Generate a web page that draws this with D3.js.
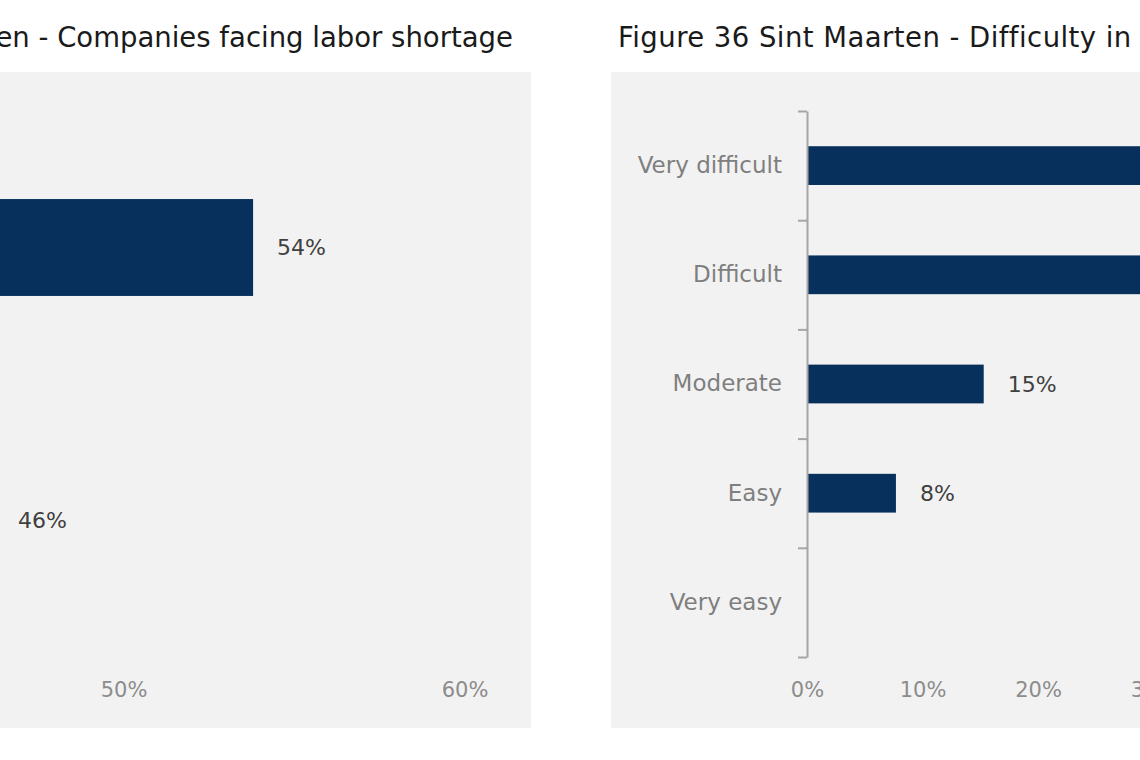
<!DOCTYPE html>
<html>
<head>
<meta charset="utf-8">
<script src="https://cdnjs.cloudflare.com/ajax/libs/d3/7.8.5/d3.min.js"></script>
<style>
  body { margin: 0; background: #fff; }
  svg { display: block; font-family: "DejaVu Sans", sans-serif; }
  .title { font-size: 27.5px; fill: #1a1a1a; }
  .cat text { font-size: 23px; fill: #7f7f7f; }
  .xaxis text { font-size: 21px; fill: #8c8c8c; }
  .val { font-size: 22px; fill: #404040; }
</style>
</head>
<body>
<script>
// Figure 35 - companies facing labor shortage
var shortageCats = ["Yes", "No"];
var shortageVals = [0.538, 0.462];
var shortageTicks = [0.5, 0.6];

// Figure 36 - difficulty in finding staff
var difficultyCats = ["Very difficult", "Difficult", "Moderate", "Easy", "Very easy"];
var difficultyVals = [0.41, 0.36, 0.153, 0.077, 0];
var difficultyTicks = [0, 0.1, 0.2, 0.3];

var W = 1140, H = 760;
var navy = "#07305d";

var svg = d3.select("body").append("svg").attr("width", W).attr("height", H);

var pct = d3.format(".0%");

function drawChart(opt) {
    var g = svg.append("g");

    // grey panel
    g.append("rect")
        .attr("x", opt.panel[0]).attr("y", 72)
        .attr("width", opt.panel[1] - opt.panel[0]).attr("height", 656)
        .attr("fill", "#f2f2f2");

    g.append("text").attr("class", "title")
        .attr("x", opt.titleX).attr("y", 47)
        .attr("text-anchor", opt.titleAnchor)
        .attr("letter-spacing", opt.titleSpacing)
        .text(opt.title);

    var x = d3.scaleLinear().domain(opt.xDomain).range(opt.xRange);
    var y = d3.scaleBand().domain(opt.cats).range([111, 657])
        .paddingInner(0.645).paddingOuter(0.3225);

    // x tick labels only, no axis line
    var xAxis = g.append("g").attr("class", "xaxis")
        .attr("transform", "translate(0,657)")
        .call(d3.axisBottom(x).tickValues(opt.ticks).tickFormat(pct).tickSize(0).tickPadding(25));
    xAxis.attr("font-family", null).attr("font-size", null);
    xAxis.select(".domain").remove();

    // bars
    g.selectAll("rect.bar").data(opt.vals).enter().append("rect")
        .attr("class", "bar")
        .attr("x", x(0))
        .attr("y", function(d, i) { return y(opt.cats[i]); })
        .attr("width", function(d) { return x(d) - x(0); })
        .attr("height", y.bandwidth())
        .attr("fill", navy);

    // value labels (none for 0)
    opt.vals.forEach(function(d, i) {
        if (d <= 0) return;
        g.append("text").attr("class", "val")
            .attr("x", x(d) + 24)
            .attr("y", y(opt.cats[i]) + y.bandwidth() / 2)
            .attr("dy", "0.36em")
            .text(pct(d));
    });

    if (!opt.showAxis) return;

    // y axis: line with ticks between categories
    var idx = d3.scaleLinear().domain([0, opt.cats.length]).range([111, 657]);
    var yAxis = g.append("g").attr("transform", "translate(" + x(0) + ",0)")
        .call(d3.axisLeft(idx).tickValues(d3.range(opt.cats.length + 1)).tickFormat("").tickSizeInner(9).tickSizeOuter(0));
    yAxis.selectAll("path, line").attr("stroke", "#a6a6a6").attr("stroke-width", 2);

    var cat = g.append("g").attr("class", "cat")
        .attr("transform", "translate(" + x(0) + ",0)")
        .call(d3.axisLeft(y).tickSize(0).tickPadding(25));
    cat.attr("font-family", null).attr("font-size", null);
    cat.select(".domain").remove();
}

// left chart is cropped: its axis and categories sit far off to the left
drawChart({
    title: "Figure 35 Sint Maarten - Companies facing labor shortage",
    titleX: 513, titleAnchor: "end", titleSpacing: 0,
    panel: [-20, 531], showAxis: false,
    cats: shortageCats, vals: shortageVals, ticks: shortageTicks,
    xDomain: [0.5, 0.6], xRange: [123.5, 464.5]
});

drawChart({
    title: "Figure 36 Sint Maarten - Difficulty in finding staff",
    titleX: 618, titleAnchor: "start", titleSpacing: 0.45,
    panel: [611, 1160], showAxis: true,
    cats: difficultyCats, vals: difficultyVals, ticks: difficultyTicks,
    xDomain: [0, 0.1], xRange: [807, 922.5]
});
</script>
</body>
</html>
